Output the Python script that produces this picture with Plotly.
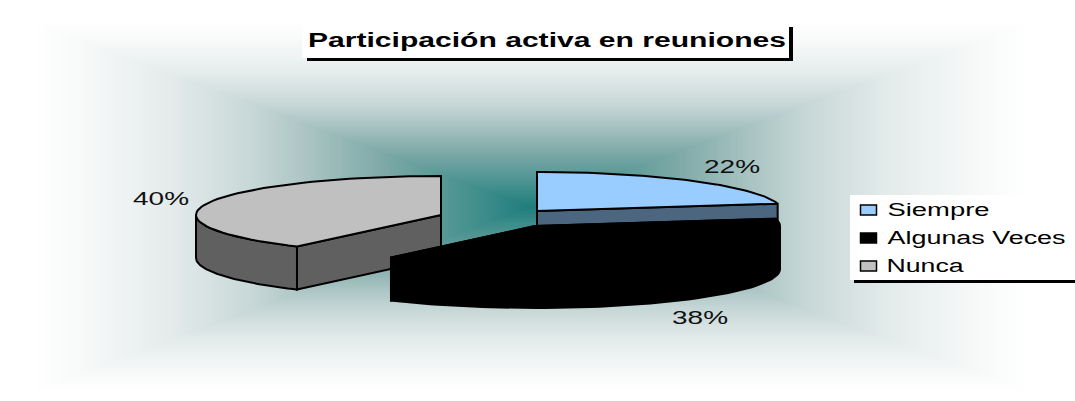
"""Participación activa en reuniones: tilted, exploded 3D-look pie on a centre gradient."""
import json
import numpy as np
import plotly.graph_objects as go

TITLE = "Participación activa en reuniones"
CATEGORIES = ["Siempre", "Algunas Veces", "Nunca"]
SHARES = [22, 38, 40]

TOP_COLORS = ["#99CCFF", "#000000", "#C0C0C0"]
SIDE_COLORS = ["#4D6680", "#000000", "#606060"]

# Page geometry, in pixels of the 1075x401 canvas
WIDTH, HEIGHT = 1075, 401
RX, RY, DEPTH = 245, 39, 43
CENTERS = [(537, 211), (535, 226), (441, 215)]
LABEL_POS = [(732, 166), (700, 317), (161, 198)]
LABEL_WIDTH = 56

# Stretched text widths, the reference is squeezed vertically
TEXT_WIDTHS = {TITLE: 478, "Siempre": 102, "Algunas Veces": 178, "Nunca": 77}
for s in SHARES:
    TEXT_WIDTHS[f"{s}%"] = LABEL_WIDTH


def arc(center, start, end, drop=0, n=60):
    """Points of the ellipse rim; angles in degrees, clockwise from 12 o'clock."""
    t = np.radians(np.linspace(start, end, n))
    return center[0] + RX * np.sin(t), center[1] - RY * np.cos(t) + drop


def add_poly(fig, xs, ys, color, name):
    fig.add_trace(go.Scatter(
        x=list(xs) + [xs[0]], y=list(ys) + [ys[0]],
        mode="lines", fill="toself", fillcolor=color,
        line=dict(color="#000000", width=2),
        name=name, showlegend=False, hoverinfo="skip",
    ))


def add_wedge(fig, center, start, end, top, side, name):
    cx, cy = center
    # cut faces
    for a in (start, end):
        rim_x, rim_y = arc(center, a, a, n=1)
        if a % 360 != 0 and np.cos(np.radians(a)) < 0.5:
            add_poly(fig, [cx, rim_x[0], rim_x[0], cx],
                     [cy, rim_y[0], rim_y[0] + DEPTH, cy + DEPTH], side, name)
    # outer wall, only the part that faces the viewer
    lo, hi = max(start, 90), min(end, 270)
    if lo < hi:
        ux, uy = arc(center, lo, hi)
        dx, dy = arc(center, hi, lo, drop=DEPTH)
        add_poly(fig, np.r_[ux, dx], np.r_[uy, dy], side, name)
    # top face
    ax, ay = arc(center, start, end)
    add_poly(fig, np.r_[cx, ax], np.r_[cy, ay], top, name)


fig = go.Figure()

# background: rectangular gradient from the centre
gx = np.arange(0, WIDTH + 2, 2)
gy = np.arange(0, HEIGHT + 2, 2)
gxx, gyy = np.meshgrid(gx, gy)
grad = np.clip(np.maximum(np.abs(gxx - 530) / 500, np.abs(gyy - 207) / 185), 0, 1)
fig.add_trace(go.Heatmap(
    x=gx, y=gy, z=grad, zmin=0, zmax=1, showscale=False, hoverinfo="skip",
    colorscale=[
        [0, "#1E7D7B"], [0.1, "#3F8E8C"], [0.3, "#7FAAA8"], [0.46, "#AEC7C6"],
        [0.56, "#C8D8D7"], [0.72, "#E4EBEB"], [0.88, "#F6F8F8"], [1, "#FFFFFF"],
    ],
))

# slices, in the order that gets the overlaps right
edges = np.cumsum([0] + SHARES) * 3.6
for i in (2, 0, 1):
    add_wedge(fig, CENTERS[i], edges[i], edges[i + 1], TOP_COLORS[i], SIDE_COLORS[i], CATEGORIES[i])

shapes = []


def box(x0, y0, x1, y1, fill, line=None):
    shapes.append(dict(type="rect", x0=x0, y0=y0, x1=x1, y1=y1, fillcolor=fill,
                       line=dict(color=line or fill, width=1.5 if line else 0), layer="above"))


# title box and legend box with their hard shadows
box(307, 27, 793, 61, "#000000")
box(302, 23, 789, 58, "#FFFFFF")
box(854, 199, WIDTH, 283, "#000000")
box(850, 195, WIDTH, 280, "#FFFFFF")

annotations = [dict(x=547, y=40, text=TITLE, showarrow=False,
                    font=dict(family="Liberation Sans", size=20, color="#000000", weight="bold"))]

LEGEND_ROWS = [210, 238, 266]
for name, color, row in zip(CATEGORIES, TOP_COLORS, LEGEND_ROWS):
    box(860.5, row - 5, 876.5, row + 5, color, "#000000")
    annotations.append(dict(x=887 + TEXT_WIDTHS[name] / 2, y=row, text=name, showarrow=False,
                            font=dict(family="Liberation Sans", size=18, color="#000000")))

for share, (lx, ly) in zip(SHARES, LABEL_POS):
    annotations.append(dict(x=lx, y=ly, text=f"{share}%", showarrow=False,
                            font=dict(family="Liberation Sans", size=19, color="#111111")))

fig.update_layout(
    width=WIDTH, height=HEIGHT,
    margin=dict(l=0, r=0, t=0, b=0),
    paper_bgcolor="#FFFFFF", plot_bgcolor="#FFFFFF",
    xaxis=dict(range=[0, WIDTH], visible=False, fixedrange=True),
    yaxis=dict(range=[HEIGHT, 0], visible=False, fixedrange=True),
    shapes=shapes, annotations=annotations, showlegend=False,
)

# widen the real text the way the stretched original is
post_script = """
document.body.style.margin = '0';
var widths = %s;
document.querySelectorAll('.annotation-text').forEach(function (t) {
  var w = widths[t.textContent];
  if (w) { t.setAttribute('textLength', w); t.setAttribute('lengthAdjust', 'spacingAndGlyphs'); }
});
""" % json.dumps(TEXT_WIDTHS, ensure_ascii=False)

fig.write_html("out.html", config={"displayModeBar": False}, post_script=post_script)
